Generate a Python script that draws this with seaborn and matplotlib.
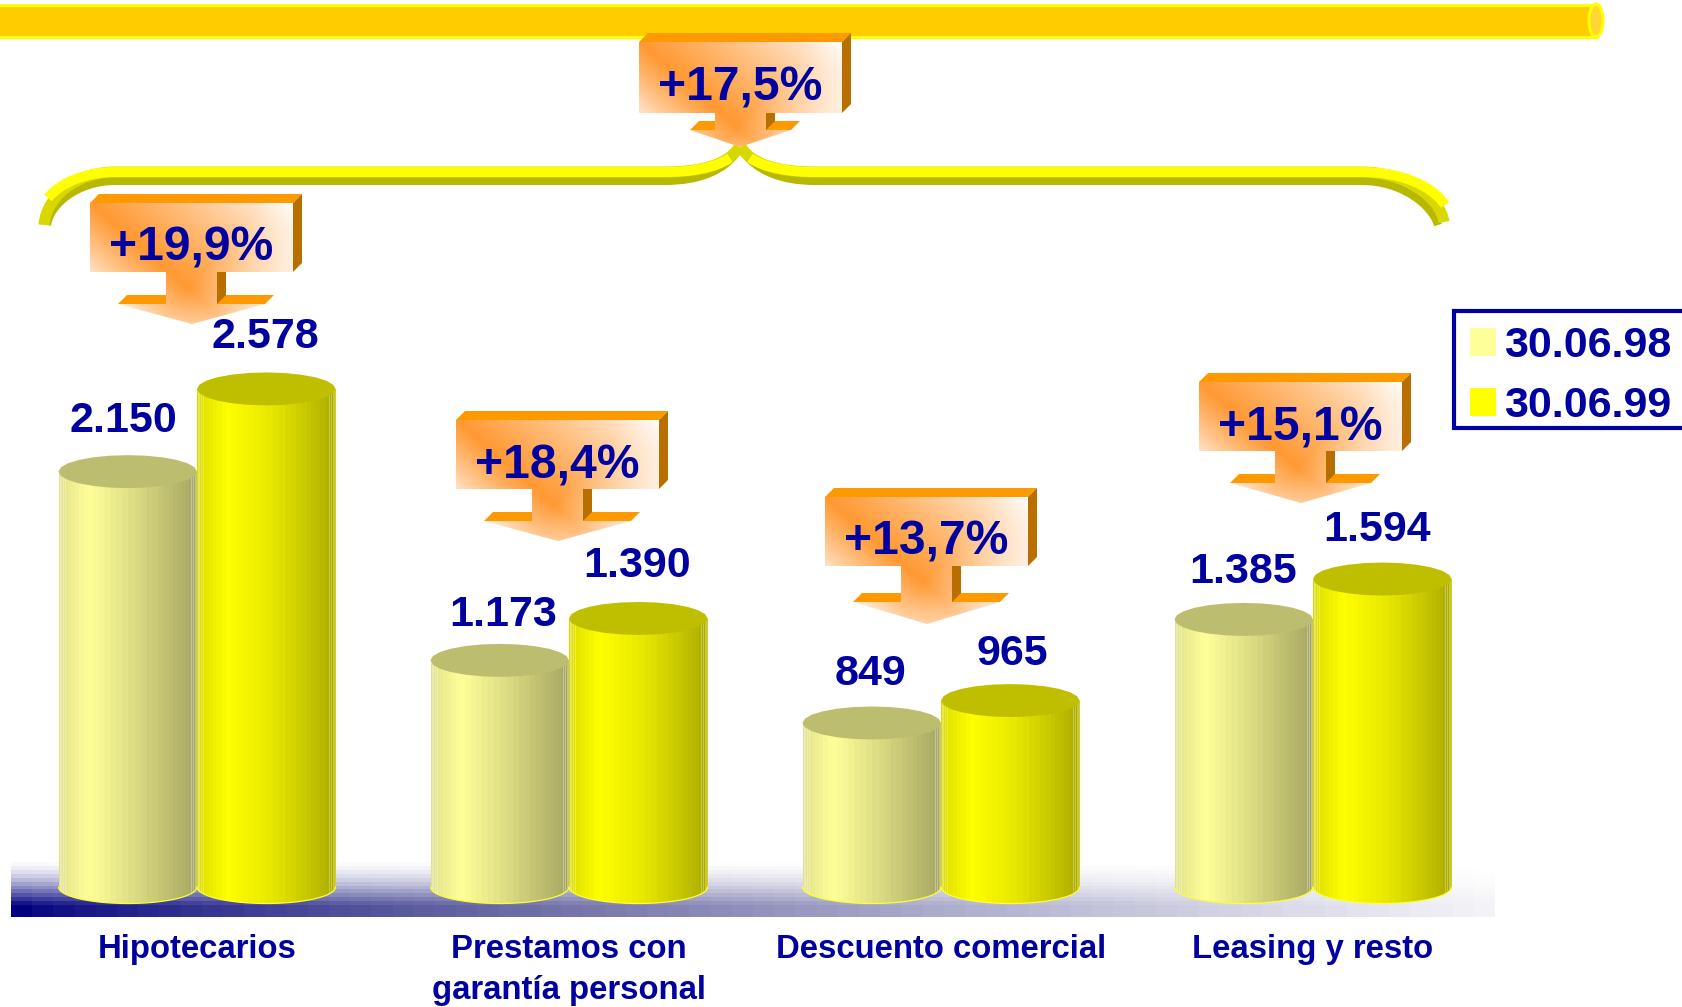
import numpy as np
import pandas as pd
import seaborn as sns
import matplotlib
matplotlib.use("Agg")
import matplotlib.pyplot as plt
from matplotlib.path import Path
from matplotlib.patches import PathPatch, Polygon, Rectangle, Ellipse

# ---------- data ----------
categories = ["Hipotecarios", "Prestamos con\ngarantía personal", "Descuento comercial", "Leasing y resto"]
dates = ["30.06.98", "30.06.99"]
values_98 = [2150, 1173, 849, 1385]
values_99 = [2578, 1390, 965, 1594]
growth_labels = ["+19,9%", "+18,4%", "+13,7%", "+15,1%"]
total_growth_label = "+17,5%"

# ---------- layout / style (pixels of the 1682x1007 canvas) ----------
W, H = 1682, 1007
BASE_PX = 887
PX_PER_UNIT = 0.1932
GROUP_PX = 372.0
FIRST_GROUP_PX = 197.0
BAR_PX = 138.5
ELL_PX = 16.5
NAVY = "#0000A0"
PALETTE = {"30.06.98": "#FFFF99", "30.06.99": "#FFFF00"}
TOP_98, TOP_99 = "#BDBD6F", "#BFBF00"
STOPS_U = [0, .22, .5, .75, 1]
STOPS_98 = [(225, 225, 140), (255, 255, 153), (225, 225, 135), (195, 195, 115), (165, 165, 100)]
STOPS_99 = [(220, 220, 0), (255, 255, 0), (235, 235, 0), (205, 205, 0), (170, 170, 0)]
DX_98, DX_99 = [-4, 3, -1, -1], [-1, -1, 2, -5]
DY_98, DY_99 = [51, 45, 49, 47], [52, 52, 47, 49]
CALLOUTS = [
    (90, 203, dict()),
    (456, 420, dict()),
    (825, 497, dict(shaft=36, drop=22)),
    (1199, 382, dict(wl=31, wr=172)),
]

sns.set_theme(style="white")
plt.rcParams["font.family"] = ["Liberation Sans", "DejaVu Sans"]
plt.rcParams["font.weight"] = "bold"

fig = plt.figure(figsize=(W / 100, H / 100), dpi=100, facecolor="white")

under = fig.add_axes([0, 0, 1, 1], zorder=0)
under.set_xlim(0, W); under.set_ylim(H, 0); under.axis("off"); under.set_autoscale_on(False)
over = fig.add_axes([0, 0, 1, 1], zorder=2)
over.set_xlim(0, W); over.set_ylim(H, 0); over.axis("off"); over.set_autoscale_on(False)
over.patch.set_alpha(0)

ax = fig.add_axes([0, (H - BASE_PX) / H, 1, BASE_PX / H], zorder=1)
ax.patch.set_alpha(0)

# ---------- floor ----------
fx = np.linspace(0, 1, 70)
fy = np.linspace(0, 1, 15)
alpha = np.outer(np.clip(fy * 1.2, 0, 1) ** 1.5, 1 - 0.95 * fx ** 0.75)
floor = np.zeros((15, 70, 4))
floor[..., 2] = (128 - 28 * np.clip(fx * 3, 0, 1))[None, :] / 255
floor[..., 3] = alpha
under.imshow(floor, extent=(11, 1495, 917, 858), aspect="auto", interpolation="nearest", zorder=1)
under.set_xlim(0, W); under.set_ylim(H, 0)

# ---------- top pipe ----------
under.add_patch(Rectangle((-5, 4.5), 1601, 32, fc="#FFCC00", ec="#FFFF00", lw=2.2, zorder=2))
under.add_patch(Ellipse((1596, 20.5), 14, 33, fc="#FFD633", ec="#FFFF00", lw=2.2, zorder=3))

# ---------- brace ----------
def stroke(verts, color, width, z):
    codes = [Path.MOVETO] + [Path.CURVE4] * 3 + [Path.LINETO] + [Path.CURVE4] * 3
    under.add_patch(PathPatch(Path(verts, codes), fc="none", ec=color, lw=width * 0.72,
                              capstyle="butt", zorder=z))

stroke([(47, 225), (50, 204), (78, 181), (115, 181), (665, 181), (700, 181), (726, 170), (738, 150)], "#B8B800", 8, 4)
stroke([(44, 225), (46, 197), (76, 172), (115, 172), (665, 172), (700, 172), (728, 165), (739, 147)], "#D8D800", 11, 5)
stroke([(48, 198), (60, 183), (85, 172), (115, 172), (665, 172), (690, 172), (715, 168), (730, 158)], "#FFFF00", 10, 6)
stroke([(1438, 225), (1432, 205), (1402, 181), (1362, 181), (815, 181), (780, 181), (755, 170), (742, 150)], "#B8B800", 8, 4)
stroke([(1444, 222), (1440, 197), (1405, 172), (1362, 172), (815, 172), (780, 172), (752, 165), (741, 147)], "#D8D800", 11, 5)
stroke([(1445, 205), (1432, 185), (1400, 172), (1362, 172), (815, 172), (790, 172), (765, 168), (750, 158)], "#FFFF00", 10, 6)

# ---------- bars ----------
df = pd.DataFrame({
    "categoria": categories * 2,
    "fecha": [dates[0]] * 4 + [dates[1]] * 4,
    "valor": values_98 + values_99,
})
sns.barplot(data=df, x="categoria", y="valor", hue="fecha", palette=PALETTE, saturation=1,
            width=2 * BAR_PX / GROUP_PX, gap=0, dodge=True, ax=ax, linewidth=0)
ax.set_autoscale_on(False)
xlim = (-FIRST_GROUP_PX / GROUP_PX, (W - FIRST_GROUP_PX) / GROUP_PX)
ylim = (0, BASE_PX / PX_PER_UNIT)
ax.set_xlim(*xlim)
ax.set_ylim(*ylim)

ell_y = ELL_PX / PX_PER_UNIT


def cylinder_image(stops, n_px):
    n_fac = 36
    edges = 0.5 * (1 - np.cos(np.linspace(0, np.pi, n_fac + 1)))
    centers = 0.5 * (edges[1:] + edges[:-1])
    st = np.array(stops, float)
    cols = np.stack([np.interp(centers, STOPS_U, st[:, c]) for c in range(3)], axis=1)
    u = (np.arange(n_px) + 0.5) / n_px
    idx = np.clip(np.searchsorted(edges, u) - 1, 0, n_fac - 1)
    img = cols[idx]
    for e in list(edges[2:6]) + list(edges[-6:-2]):
        k = min(int(e * n_px), n_px - 1)
        img[k] = img[k] * 0.7 + 255 * 0.3
    return (img[None, :, :] / 255).astype(float)


for s, (cont, stops, top_col, dxs, dys) in enumerate(zip(
        ax.containers, (STOPS_98, STOPS_99), (TOP_98, TOP_99), (DX_98, DX_99), (DY_98, DY_99))):
    for i, bar in enumerate(cont):
        x0, w, h = bar.get_x(), bar.get_width(), bar.get_height()
        xc = x0 + w / 2
        z = 3 + 2 * i + s * 0.5
        th = np.linspace(0, np.pi, 40)
        bx = xc + w / 2 * np.cos(th)
        by = -ell_y * np.sin(th)
        verts = [(x0, h), (x0 + w, h)] + list(zip(bx, by)) + [(x0, h)]
        codes = [Path.MOVETO] + [Path.LINETO] * (len(verts) - 2) + [Path.CLOSEPOLY]
        im = ax.imshow(cylinder_image(stops, int(BAR_PX)), extent=(x0, x0 + w, -ell_y, h),
                       aspect="auto", interpolation="nearest", zorder=z)
        im.set_clip_path(Path(verts, codes), transform=ax.transData)
        im.set_clip_box(fig.bbox)
        ax.plot(bx, by, color="#FFFF33", lw=0.9, clip_on=False, zorder=z + 0.1)
        tt = np.linspace(0, 2 * np.pi, 25)
        ax.add_patch(Polygon(np.c_[xc + w / 2 * np.cos(tt), h + ell_y * np.sin(tt)],
                             closed=True, fc=top_col, ec="none", clip_on=False, zorder=z + 0.2))
        ax.annotate(f"{int(h):,}".replace(",", "."), xy=(xc, h), xytext=(dxs[i], dys[i]),
                    textcoords="offset pixels", ha="center", va="center", fontsize=31,
                    fontweight="bold", color=NAVY, zorder=30, annotation_clip=False)

ax.set_xlim(*xlim)
ax.set_ylim(*ylim)
ax.set_xlabel(""); ax.set_ylabel("")
ax.set_yticks([])
ax.tick_params(axis="x", length=0, pad=34, labelsize=23.7, labelcolor=NAVY)
for lab in ax.get_xticklabels():
    lab.set_fontweight("bold")
    lab.set_linespacing(1.42)
sns.despine(ax=ax, left=True, bottom=True)

# ---------- legend ----------
handles, labels = ax.get_legend_handles_labels()
ax.legend(handles, labels, loc="upper left", bbox_to_anchor=(1458 / W, 1 - 314 / H),
          bbox_transform=fig.transFigure, borderaxespad=0, frameon=False,
          handlelength=0.61, handleheight=0.61, handletextpad=0.18, labelspacing=0.47,
          borderpad=0.28, labelcolor=NAVY, prop={"size": 31, "weight": "bold"})
ax.get_legend().set_zorder(40)
under.add_patch(Rectangle((1454, 311), 240, 117, fc="white", ec=NAVY, lw=3, zorder=2))


# ---------- callouts ----------
def callout(x, y, text, h=69, shaft=32, wl=28, wr=175, tip=102, drop=20, dep=9):
    w = 203
    sl, sr = 76, 127
    yb = y + h
    yw = yb + shaft
    z = 10
    over.add_patch(Polygon([(x, y), (x + dep, y - dep), (x + w + dep, y - dep), (x + w, y)], fc="#FF9900", ec="none", zorder=z))
    over.add_patch(Polygon([(x + w, y), (x + w + dep, y - dep), (x + w + dep, yb - dep), (x + w, yb)], fc="#B86F00", ec="none", zorder=z))
    over.add_patch(Polygon([(x + wl, yw), (x + wl + dep, yw - dep), (x + sl, yw - dep), (x + sl, yw)], fc="#FF9900", ec="none", zorder=z))
    over.add_patch(Polygon([(x + sr, yw), (x + sr, yw - dep), (x + wr + dep, yw - dep), (x + wr, yw)], fc="#FF9900", ec="none", zorder=z))
    over.add_patch(Polygon([(x + sr, yb), (x + sr + dep, yb - dep), (x + sr + dep, yw - dep), (x + sr, yw)], fc="#B86F00", ec="none", zorder=z))
    total_h = h + shaft + drop
    yy, xx = np.mgrid[0:total_h, 0:w]
    d = (87 * xx - 100 * yy) / 132.0
    a = (100 * xx + 87 * yy) / 132.0
    st = np.where(d > 0, 1 - d / 133.0, 1 + d / 65.0)
    st = np.clip(st, 0, 1) * (1 - 0.7 * np.clip((a - 130) / 60.0, 0, 1))
    st = st ** 0.8
    img = np.ones((total_h, w, 3))
    img[..., 1] = 1 - st * (1 - 153 / 255)
    img[..., 2] = 1 - st * (1 - 51 / 255)
    im = over.imshow(img, extent=(x, x + w, y + total_h, y), aspect="auto", zorder=z + 1)
    shape = [(x, y), (x + w, y), (x + w, yb), (x + sr, yb), (x + sr, yw), (x + wr, yw), (x + tip, yw + drop),
             (x + wl, yw), (x + sl, yw), (x + sl, yb), (x, yb), (x, y)]
    cd = [Path.MOVETO] + [Path.LINETO] * (len(shape) - 2) + [Path.CLOSEPOLY]
    im.set_clip_path(Path(shape, cd), transform=over.transData)
    over.text(x + w / 2, y + h / 2 + 11, text, ha="center", va="center", fontsize=34.6,
              fontweight="bold", color=NAVY, zorder=z + 2)


for (cx, cy, opts), txt in zip(CALLOUTS, growth_labels):
    callout(cx, cy, txt, **opts)
callout(639, 42, total_growth_label, h=71, shaft=17, wl=51, wr=152, tip=101, drop=17)
over.set_xlim(0, W); over.set_ylim(H, 0)

fig.savefig("out.png", dpi=100)
